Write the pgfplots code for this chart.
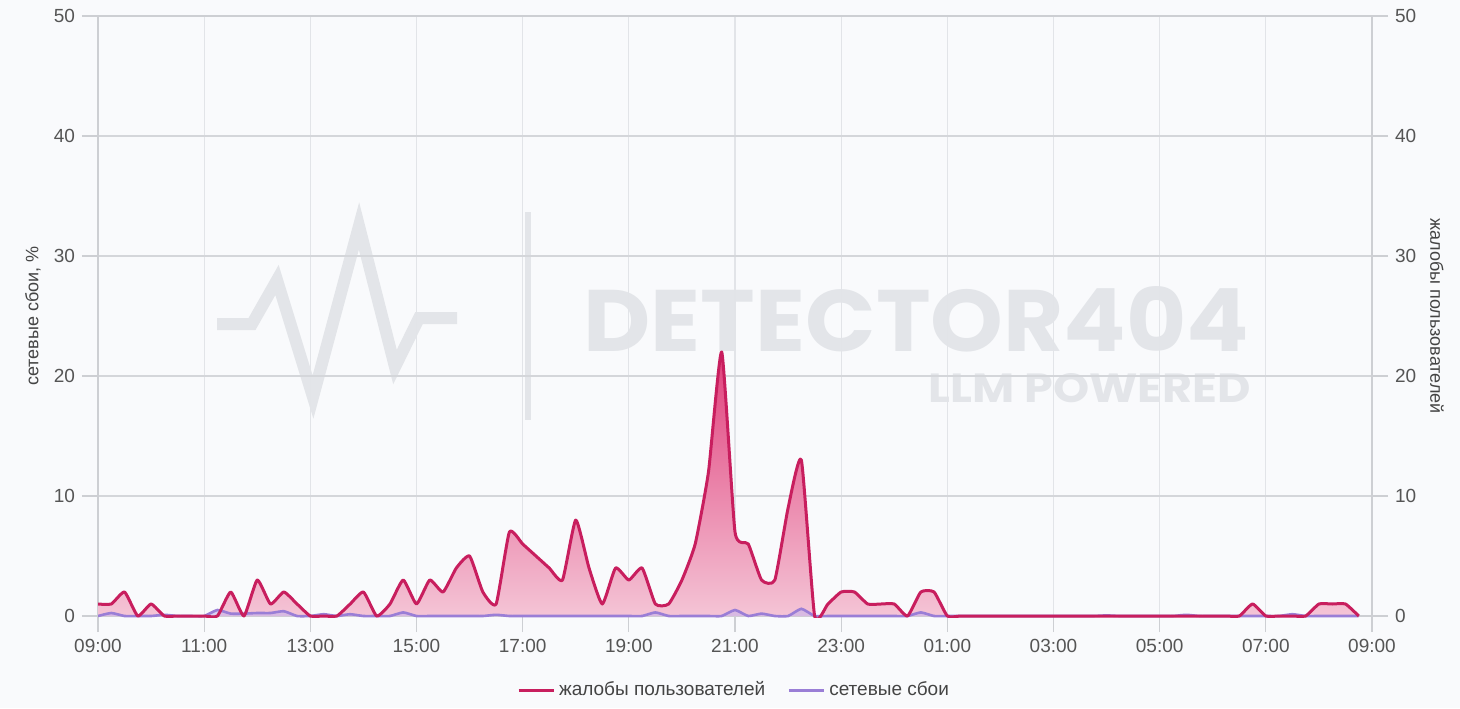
\documentclass[border=0pt]{standalone}
\usepackage{pgfplots}
\pgfplotsset{compat=1.18}
\usepackage{graphicx}
\usepackage{fontspec}
\setmainfont{Liberation Sans}
\newfontfamily\wmfont{Poppins}

\definecolor{bgc}{HTML}{F9FAFC}
\definecolor{wm}{HTML}{E3E5E9}
\definecolor{redline}{HTML}{C81E5E}
\definecolor{pinktop}{HTML}{E03E7A}
\definecolor{pinkbot}{HTML}{F5CADA}
\definecolor{purpline}{HTML}{9A7ED6}
\definecolor{purpfill}{HTML}{C6B4EC}
\definecolor{hgrid}{HTML}{D4D6DA}
\definecolor{vgrid}{HTML}{E2E4E8}
\definecolor{axgray}{HTML}{CDCFD3}
\definecolor{ticktext}{HTML}{555555}
\definecolor{labtext}{HTML}{444444}

\pgfplotsset{
  common/.style={
    at={(49pt,46pt)}, anchor=south west,
    scale only axis, width=637pt, height=300pt,
    xmin=0, xmax=24, ymin=0, ymax=50,
    ytick={0,10,...,50},
    tick align=outside,
    major tick length=8pt,
    major tick style={draw=axgray, line width=0.6pt},
    axis line style={draw=axgray, line width=0.6pt},
    tick label style={font=\fontsize{9.5}{11}\selectfont, text=ticktext},
    /pgf/number format/assume math mode=true,
    label style={font=\fontsize{9}{11}\selectfont, text=labtext},
  }
}

\begin{document}
\begin{tikzpicture}
\path[use as bounding box, fill=bgc] (0,0) rectangle (730pt,354pt);

% watermark
\begin{scope}[x=0.5pt, y=-0.5pt, shift={(0pt,354pt)}]
  \draw[wm, line width=6pt, line join=miter, miter limit=4, line cap=butt]
    (217,324) -- (252,324) -- (277,280) -- (313,397) -- (359,226) -- (395,367) -- (419,318) -- (457,318);
  \fill[wm] (525,212) rectangle (531,420);
  \node[anchor=south east, inner sep=0pt, text=wm] at (1250,353)
    {\resizebox{333pt}{32.5pt}{\wmfont\bfseries DETECTOR404}};
  \node[anchor=south east, inner sep=0pt, text=wm] at (1251,403)
    {\resizebox{161pt}{14.5pt}{\wmfont\bfseries LLM POWERED}};
\end{scope}

% frame, grid, left ticks and label
\begin{axis}[common,
  xtick={0,2,...,24},
  xticklabels={09:00,11:00,13:00,15:00,17:00,19:00,21:00,23:00,01:00,03:00,05:00,07:00,09:00},
  xtick pos=bottom, ytick pos=left,
  grid=major,
  x grid style={vgrid, line width=0.6pt},
  y grid style={hgrid, line width=0.6pt},
  ylabel={сетевые сбои, \%},
  ylabel style={at={(rel axis cs:0,0.5)}, anchor=center, yshift=32.5pt},
]
\end{axis}

% data (y range slightly extended downward so that overshoot below zero is clipped)
\begin{axis}[
  at={(49pt,45.1pt)}, anchor=south west,
  scale only axis, width=637pt, height=300.9pt,
  xmin=0, xmax=24, ymin=-0.15, ymax=50,
  hide axis,
  legend style={at={(0.5,0)}, anchor=center, yshift=-36.1pt, draw=none, fill=none,
    legend columns=2, font=\fontsize{9.5}{11}\selectfont, text=labtext,
    /tikz/every even column/.append style={column sep=9pt}},
  legend image code/.code={\draw[#1] (0pt,0pt) -- (17.5pt,0pt);},
]
\addlegendimage{redline, line width=1.5pt}
\addlegendentry{жалобы пользователей}
\addlegendimage{purpline, line width=1.5pt}
\addlegendentry{сетевые сбои}

% complaints fill
\addplot[forget plot, draw=none, top color=pinktop, bottom color=pinkbot, smooth, tension=0.3] coordinates {
(0,1)(0.25,1)(0.5,2)(0.75,0)(1,1)(1.25,0)(1.5,0)(1.75,0)(2,0)(2.25,0)(2.5,2)(2.75,0)
(3,3)(3.25,1)(3.5,2)(3.75,1)(4,0)(4.25,0)(4.5,0)(4.75,1)(5,2)(5.25,0)(5.5,1)(5.75,3)
(6,1)(6.25,3)(6.5,2)(6.75,4)(7,5)(7.25,2)(7.5,1)(7.75,7)(8,6)(8.25,5)(8.5,4)(8.75,3)
(9,8)(9.25,4)(9.5,1)(9.75,4)(10,3)(10.25,4)(10.5,1)(10.75,1)(11,3)(11.25,6)(11.5,12)(11.75,22)
(12,7)(12.25,6)(12.5,3)(12.75,3)(13,9)(13.25,13)(13.5,0)(13.75,1)(14,2)(14.25,2)(14.5,1)(14.75,1)
(15,1)(15.25,0)(15.5,2)(15.75,2)(16,0)(16.25,0)(16.5,0)(16.75,0)(17,0)(17.25,0)(17.5,0)(17.75,0)
(18,0)(18.25,0)(18.5,0)(18.75,0)(19,0)(19.25,0)(19.5,0)(19.75,0)(20,0)(20.25,0)(20.5,0)(20.75,0)
(21,0)(21.25,0)(21.5,0)(21.75,1)(22,0)(22.25,0)(22.5,0)(22.75,0)(23,1)(23.25,1)(23.5,1)(23.75,0)
} \closedcycle;

% network fill
\addplot[forget plot, draw=none, fill=purpfill, fill opacity=0.6, smooth, tension=0.3] coordinates {
(0,0)(0.25,0.25)(0.5,0)(0.75,0)(1,0)(1.25,0.1)(1.5,0)(1.75,0)(2,0)(2.25,0.5)(2.5,0.2)(2.75,0.2)
(3,0.25)(3.25,0.25)(3.5,0.4)(3.75,0)(4,0)(4.25,0.15)(4.5,0)(4.75,0.15)(5,0)(5.25,0)(5.5,0)(5.75,0.3)
(6,0)(6.25,0)(6.5,0)(6.75,0)(7,0)(7.25,0)(7.5,0.1)(7.75,0)(8,0)(8.25,0)(8.5,0)(8.75,0)
(9,0)(9.25,0)(9.5,0)(9.75,0)(10,0)(10.25,0)(10.5,0.3)(10.75,0)(11,0)(11.25,0)(11.5,0)(11.75,0)
(12,0.5)(12.25,0)(12.5,0.2)(12.75,0)(13,0)(13.25,0.6)(13.5,0)(13.75,0)(14,0)(14.25,0)(14.5,0)(14.75,0)
(15,0)(15.25,0)(15.5,0.3)(15.75,0)(16,0)(16.25,0)(16.5,0)(16.75,0)(17,0)(17.25,0)(17.5,0)(17.75,0)
(18,0)(18.25,0)(18.5,0)(18.75,0)(19,0.05)(19.25,0)(19.5,0)(19.75,0)(20,0)(20.25,0)(20.5,0.1)(20.75,0)
(21,0)(21.25,0)(21.5,0)(21.75,0)(22,0)(22.25,0)(22.5,0.15)(22.75,0)(23,0)(23.25,0)(23.5,0)(23.75,0)
} \closedcycle;

% network line
\addplot[forget plot, purpline, line width=1.3pt, smooth, tension=0.3] coordinates {
(0,0)(0.25,0.25)(0.5,0)(0.75,0)(1,0)(1.25,0.1)(1.5,0)(1.75,0)(2,0)(2.25,0.5)(2.5,0.2)(2.75,0.2)
(3,0.25)(3.25,0.25)(3.5,0.4)(3.75,0)(4,0)(4.25,0.15)(4.5,0)(4.75,0.15)(5,0)(5.25,0)(5.5,0)(5.75,0.3)
(6,0)(6.25,0)(6.5,0)(6.75,0)(7,0)(7.25,0)(7.5,0.1)(7.75,0)(8,0)(8.25,0)(8.5,0)(8.75,0)
(9,0)(9.25,0)(9.5,0)(9.75,0)(10,0)(10.25,0)(10.5,0.3)(10.75,0)(11,0)(11.25,0)(11.5,0)(11.75,0)
(12,0.5)(12.25,0)(12.5,0.2)(12.75,0)(13,0)(13.25,0.6)(13.5,0)(13.75,0)(14,0)(14.25,0)(14.5,0)(14.75,0)
(15,0)(15.25,0)(15.5,0.3)(15.75,0)(16,0)(16.25,0)(16.5,0)(16.75,0)(17,0)(17.25,0)(17.5,0)(17.75,0)
(18,0)(18.25,0)(18.5,0)(18.75,0)(19,0.05)(19.25,0)(19.5,0)(19.75,0)(20,0)(20.25,0)(20.5,0.1)(20.75,0)
(21,0)(21.25,0)(21.5,0)(21.75,0)(22,0)(22.25,0)(22.5,0.15)(22.75,0)(23,0)(23.25,0)(23.5,0)(23.75,0)
};

% complaints line
\addplot[forget plot, redline, line width=1.5pt, smooth, tension=0.3, line join=round] coordinates {
(0,1)(0.25,1)(0.5,2)(0.75,0)(1,1)(1.25,0)(1.5,0)(1.75,0)(2,0)(2.25,0)(2.5,2)(2.75,0)
(3,3)(3.25,1)(3.5,2)(3.75,1)(4,0)(4.25,0)(4.5,0)(4.75,1)(5,2)(5.25,0)(5.5,1)(5.75,3)
(6,1)(6.25,3)(6.5,2)(6.75,4)(7,5)(7.25,2)(7.5,1)(7.75,7)(8,6)(8.25,5)(8.5,4)(8.75,3)
(9,8)(9.25,4)(9.5,1)(9.75,4)(10,3)(10.25,4)(10.5,1)(10.75,1)(11,3)(11.25,6)(11.5,12)(11.75,22)
(12,7)(12.25,6)(12.5,3)(12.75,3)(13,9)(13.25,13)(13.5,0)(13.75,1)(14,2)(14.25,2)(14.5,1)(14.75,1)
(15,1)(15.25,0)(15.5,2)(15.75,2)(16,0)(16.25,0)(16.5,0)(16.75,0)(17,0)(17.25,0)(17.5,0)(17.75,0)
(18,0)(18.25,0)(18.5,0)(18.75,0)(19,0)(19.25,0)(19.5,0)(19.75,0)(20,0)(20.25,0)(20.5,0)(20.75,0)
(21,0)(21.25,0)(21.5,0)(21.75,1)(22,0)(22.25,0)(22.5,0)(22.75,0)(23,1)(23.25,1)(23.5,1)(23.75,0)
};
\end{axis}

% right ticks and label
\begin{axis}[common,
  axis x line=none,
  axis y line*=right,
  axis line style={draw=axgray, line width=0.6pt, -},
  ylabel={жалобы пользователей},
  ylabel style={at={(rel axis cs:1,0.5)}, anchor=center, rotate=180, yshift=32.5pt},
]
\end{axis}
\end{tikzpicture}
\end{document}
